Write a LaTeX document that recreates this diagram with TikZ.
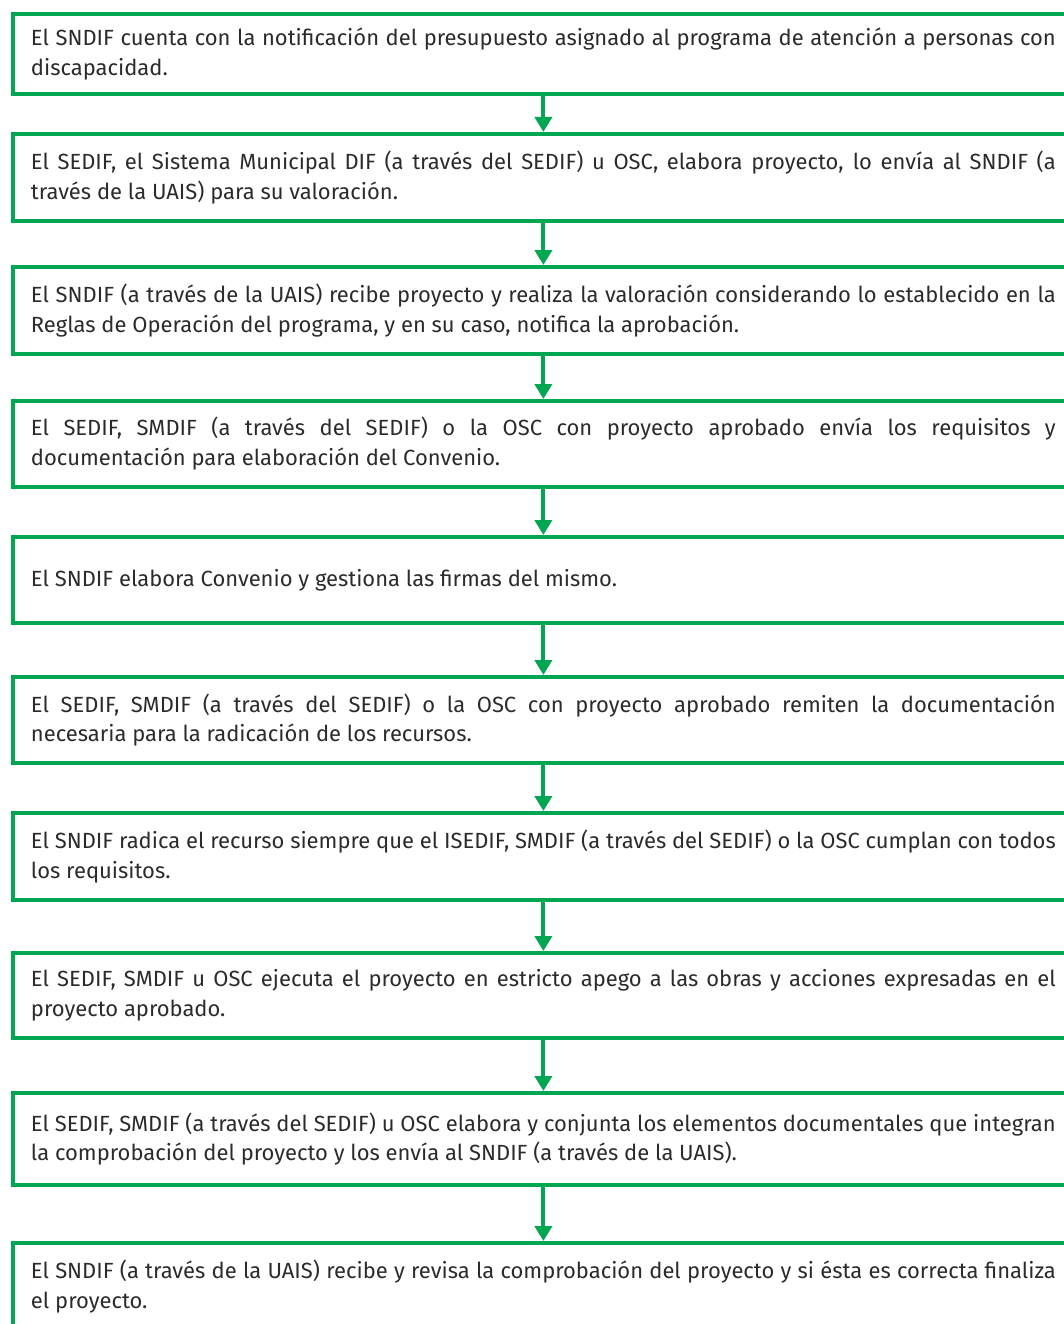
\documentclass[tikz,border=0pt]{standalone}
\usepackage{fontspec}
\setmainfont{Fira Sans}
\usetikzlibrary{arrows.meta}
\definecolor{verde}{HTML}{00A651}
\definecolor{texto}{HTML}{2B2B2B}
\tolerance=9999
\hyphenpenalty=10000

\begin{document}
\begin{tikzpicture}[x=0.02cm, y=-0.02cm,
    paso/.style={draw=verde, line width=0.08cm, anchor=north west,
      text width=20.5cm, inner xsep=0.36cm, inner ysep=0pt, align=justify,
      text=texto, font=\fontsize{12.5}{17}\selectfont},
    flecha/.style={draw=verde, line width=0.08cm, -{Triangle[width=0.34cm,length=0.3cm]}}]
   % Fix the frame of the page
   \useasboundingbox (0,0) rectangle (1063,1324);

   % Steps of the procedure
   \node[paso, minimum height=1.6cm] (s1) at (11,12)
     {El SNDIF cuenta con la notificación del presupuesto asignado al programa de atención a personas con\linebreak discapacidad.};
   \node[paso, minimum height=1.74cm] (s2) at (11,132)
     {El SEDIF, el Sistema Municipal DIF (a través del SEDIF) u OSC, elabora proyecto, lo envía al SNDIF (a\linebreak través de la UAIS) para su valoración.};
   \node[paso, minimum height=1.74cm] (s3) at (11,265)
     {El SNDIF (a través de la UAIS) recibe proyecto y realiza la valoración considerando lo establecido en la\linebreak Reglas de Operación del programa, y en su caso, notifica la aprobación.};
   \node[paso, minimum height=1.72cm] (s4) at (11,399)
     {El SEDIF, SMDIF (a través del SEDIF) o la OSC con proyecto aprobado envía los requisitos y\linebreak documentación para elaboración del Convenio.};
   \node[paso, minimum height=1.72cm] (s5) at (11,535)
     {El SNDIF elabora Convenio y gestiona las firmas del mismo.};
   \node[paso, minimum height=1.72cm] (s6) at (11,675)
     {El SEDIF, SMDIF (a través del SEDIF) o la OSC con proyecto aprobado remiten la documentación\linebreak necesaria para la radicación de los recursos.};
   \node[paso, minimum height=1.74cm] (s7) at (11,811)
     {El SNDIF radica el recurso siempre que el ISEDIF, SMDIF (a través del SEDIF) o la OSC cumplan con todos\linebreak los requisitos.};
   \node[paso, minimum height=1.7cm] (s8) at (11,951)
     {El SEDIF, SMDIF u OSC ejecuta el proyecto en estricto apego a las obras y acciones expresadas en el\linebreak proyecto aprobado.};
   \node[paso, minimum height=1.84cm] (s9) at (11,1091)
     {El SEDIF, SMDIF (a través del SEDIF) u OSC elabora y conjunta los elementos documentales que integran\linebreak la comprobación del proyecto y los envía al SNDIF (a través de la UAIS).};
   \node[paso, minimum height=1.74cm] (s10) at (11,1241)
     {El SNDIF (a través de la UAIS) recibe y revisa la comprobación del proyecto y si ésta es correcta finaliza\linebreak el proyecto.};

   % Arrows between the steps
   \draw[flecha] (s1.south) -- (s2.north);
   \draw[flecha] (s2.south) -- (s3.north);
   \draw[flecha] (s3.south) -- (s4.north);
   \draw[flecha] (s4.south) -- (s5.north);
   \draw[flecha] (s5.south) -- (s6.north);
   \draw[flecha] (s6.south) -- (s7.north);
   \draw[flecha] (s7.south) -- (s8.north);
   \draw[flecha] (s8.south) -- (s9.north);
   \draw[flecha] (s9.south) -- (s10.north);
\end{tikzpicture}
\end{document}
